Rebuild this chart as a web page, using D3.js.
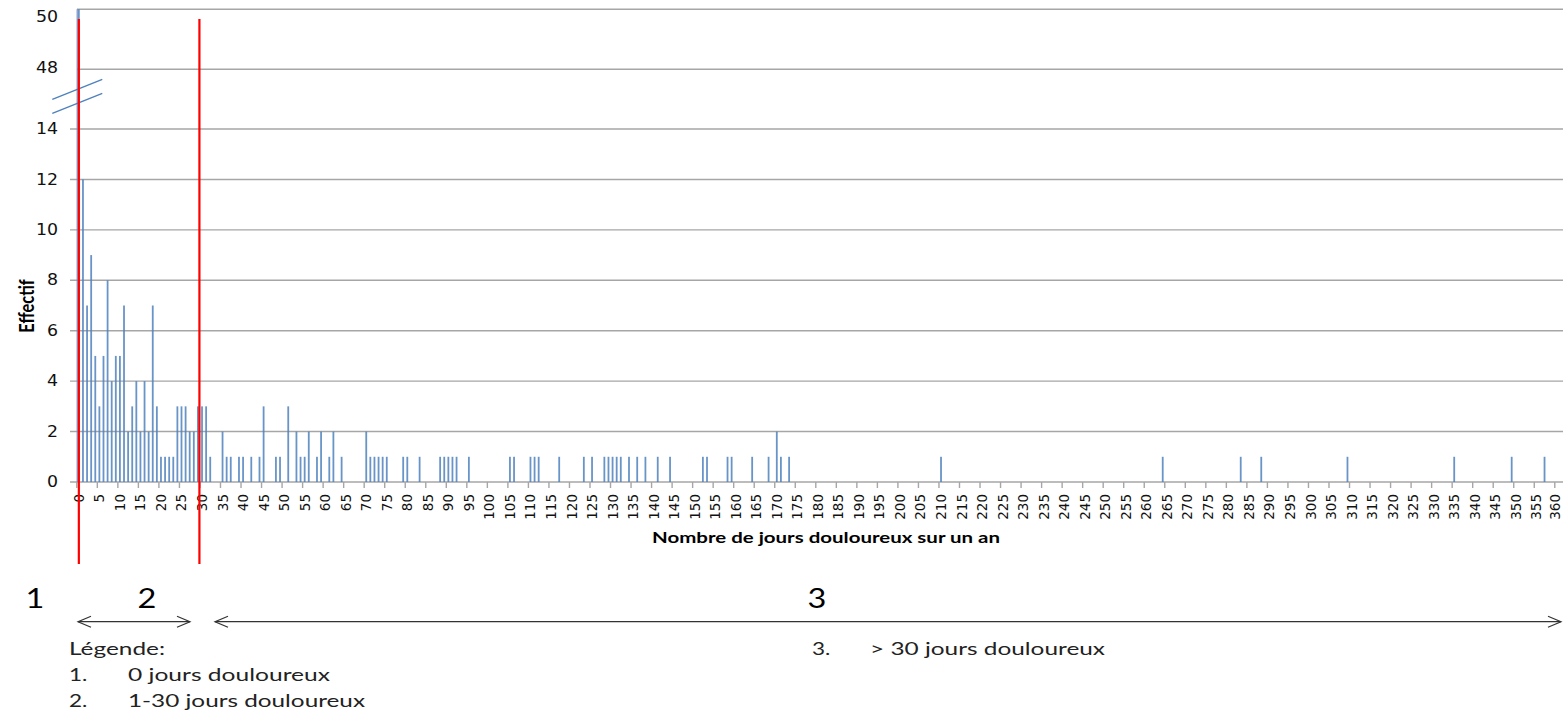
<!DOCTYPE html>
<html>
<head>
<meta charset="utf-8">
<script src="https://cdn.jsdelivr.net/npm/d3@7"></script>
<style>
  html, body { margin: 0; padding: 0; background: #fff; }
  svg { display: block; }
</style>
</head>
<body>
<svg id="chart" width="1563" height="713"></svg>
<script>
// ---------------- data ----------------
const days = [0,1,2,3,4,5,6,7,8,9,10,11,12,13,14,15,16,17,18,19,20,21,22,23,24,25,26,27,28,29,30,31,32,
  35,36,37,39,40,42,44,45,48,49,51,53,54,55,56,58,59,61,62,64,70,71,72,73,74,75,79,80,83,88,89,90,91,92,95,
  105,106,110,111,112,117,123,125,128,129,130,131,132,134,136,138,141,144,152,153,158,159,164,168,170,171,173,
  210,264,283,288,309,335,349,357];
const counts = [50,12,7,9,5,3,5,8,4,5,5,7,2,3,4,2,4,2,7,3,1,1,1,1,3,3,3,2,2,3,3,3,1,
  2,1,1,1,1,1,1,3,1,1,3,2,1,1,2,1,2,1,2,1,2,1,1,1,1,1,1,1,1,1,1,1,1,1,1,
  1,1,1,1,1,1,1,1,1,1,1,1,1,1,1,1,1,1,1,1,1,1,1,1,2,1,1,
  1,1,1,1,1,1,1,1];
const categories = d3.range(0, 361);           // every day of the year 0..360
const xTickLabels = d3.range(0, 361, 5);       // labelled every 5 days
const yTicksLower = [0, 2, 4, 6, 8, 10, 12, 14];
const yTicksUpper = [48, 50];
const boundaries = [0, 30];                     // red separators
const xTitle = "Nombre de jours douloureux sur un an";
const yTitle = "Effectif";
const zoneLabels = ["1", "2", "3"];
const legendTitle = "Légende:";
const legendItems = [["1.", "0 jours douloureux"], ["2.", "1-30 jours douloureux"], ["3.", "> 30 jours douloureux"]];

// ---------------- layout ----------------
const svg = d3.select("#chart");
const SX = 1.25;  // horizontal stretch of the original picture
const font = "Lato, 'Open Sans', sans-serif";
const barColor = "#4F81BD";
const gridColor = "#A6A6A6";

const x = d3.scaleBand().domain(categories).range([76.8, 1558.9]).paddingInner(0).paddingOuter(0);
const bw = x.bandwidth();
const cx = d => x(d) + bw / 2;
const yL = d3.scaleLinear().domain([0, 14]).range([482, 129]);
const yU = d3.scaleLinear().domain([48, 50]).range([69.3, 9.3]);
const yv = v => v <= 14 ? yL(v) : yU(v);

svg.append("rect").attr("width", 1563).attr("height", 713).attr("fill", "#fff");

// gridlines lower
svg.append("g").selectAll("line").data(yTicksLower).join("line")
  .attr("x1", 70).attr("x2", 1563)
  .attr("y1", d => yL(d)).attr("y2", d => yL(d))
  .attr("stroke", gridColor).attr("stroke-width", 1.4);
// gridlines upper
svg.append("g").selectAll("line").data(yTicksUpper).join("line")
  .attr("x1", 77).attr("x2", 1563)
  .attr("y1", d => yU(d)).attr("y2", d => yU(d))
  .attr("stroke", gridColor).attr("stroke-width", 1.4);

// y labels
const yLab = svg.append("g").attr("font-family", "'DejaVu Sans', sans-serif").attr("font-size", 15.5).attr("fill", "#111");
yLab.selectAll("text.l").data(yTicksLower).join("text").attr("class", "l")
  .attr("text-anchor", "end").attr("dominant-baseline", "central")
  .attr("transform", d => `translate(58,${yL(d)}) scale(1.12,1)`).text(d => d);
yLab.selectAll("text.u").data(yTicksUpper).join("text").attr("class", "u")
  .attr("text-anchor", "end").attr("dominant-baseline", "central")
  .attr("transform", d => `translate(58,${Math.max(yU(d) - 1.5, 17)}) scale(1.12,1)`).text(d => d);

// x axis ticks (at category boundaries) and labels
svg.append("g").selectAll("line").data(xTickLabels).join("line")
  .attr("x1", d => x(d)).attr("x2", d => x(d)).attr("y1", 482).attr("y2", 488)
  .attr("stroke", gridColor).attr("stroke-width", 1.4);
svg.append("g").attr("font-family", "'DejaVu Sans', sans-serif").attr("font-size", 13.5).attr("fill", "#111")
  .selectAll("text").data(xTickLabels).join("text")
  .attr("text-anchor", "end").attr("dominant-baseline", "central")
  .attr("transform", d => `translate(${Math.min(cx(d), 1555)},494) rotate(-90)`).text(d => d);

// bars
svg.append("g").selectAll("rect").data(days.map((d, i) => ({ d, v: counts[i] }))).join("rect")
  .attr("x", p => cx(p.d) - 0.9).attr("width", 1.8)
  .attr("y", p => yv(p.v)).attr("height", p => 482 - yv(p.v))
  .attr("fill", barColor).attr("opacity", 0.85);

// y axis line
svg.append("line").attr("x1", 77.2).attr("x2", 77.2).attr("y1", yU(50)).attr("y2", 482)
  .attr("stroke", "#6F8FC4").attr("stroke-width", 1.2);

// axis break marks
svg.append("g").selectAll("line").data([0, 14]).join("line")
  .attr("x1", 52.3).attr("y1", d => 99.3 + d).attr("x2", 102.3).attr("y2", d => 79.3 + d)
  .attr("stroke", barColor).attr("stroke-width", 1.3);

// red separators
svg.append("g").selectAll("line").data(boundaries).join("line")
  .attr("x1", d => cx(d) + (d === 0 ? 0 : -2.6)).attr("x2", d => cx(d) + (d === 0 ? 0 : -2.6))
  .attr("y1", 19).attr("y2", 564)
  .attr("stroke", "#FF0000").attr("stroke-width", 2.2);

// axis titles
svg.append("text").attr("font-family", font).attr("font-weight", "bold").attr("font-size", 15)
  .attr("x", 652).attr("y", 543).attr("textLength", 348).attr("lengthAdjust", "spacingAndGlyphs")
  .attr("fill", "#000").text(xTitle);
svg.append("text").attr("font-family", font).attr("font-weight", "bold").attr("font-size", 16.5)
  .attr("text-anchor", "middle").attr("dominant-baseline", "central").attr("fill", "#000")
  .attr("transform", `translate(26,306) scale(${SX},1) rotate(-90)`).text(yTitle);

// zone numbers
const zoneX = [35, 147, 817];
svg.append("g").attr("font-family", font).attr("font-size", 26).attr("fill", "#000")
  .selectAll("text").data(zoneLabels).join("text")
  .attr("text-anchor", "middle")
  .attr("transform", (d, i) => `translate(${zoneX[i]},608) scale(${SX},1)`).text(d => d);

// double arrows
function dblArrow(x1, x2, y) {
  const g = svg.append("g").attr("stroke", "#333").attr("stroke-width", 1.2).attr("fill", "none");
  g.append("line").attr("x1", x1).attr("x2", x2).attr("y1", y).attr("y2", y);
  g.append("path").attr("d", `M${x1 + 13},${y - 5.5} L${x1},${y} L${x1 + 13},${y + 5.5}`);
  g.append("path").attr("d", `M${x2 - 13},${y - 5.5} L${x2},${y} L${x2 - 13},${y + 5.5}`);
}
dblArrow(78, 190, 621.7);
dblArrow(215, 1561, 621.7);

// legend
const lg = svg.append("g").attr("font-family", font).attr("font-size", 18).attr("fill", "#222");
lg.append("text").attr("x", 69).attr("y", 655).attr("textLength", 96).attr("lengthAdjust", "spacingAndGlyphs").text(legendTitle);
const legPos = [[69, 128, 681, 202], [69, 128, 707, 237], [812, 870, 655, 235]];
legendItems.forEach((it, i) => {
  const p = legPos[i];
  lg.append("text").attr("transform", `translate(${p[0]},${p[2]}) scale(${SX},1)`).text(it[0]);
  lg.append("text").attr("x", p[1]).attr("y", p[2]).attr("textLength", p[3])
    .attr("lengthAdjust", "spacingAndGlyphs").text(it[1]);
});
</script>
</body>
</html>
